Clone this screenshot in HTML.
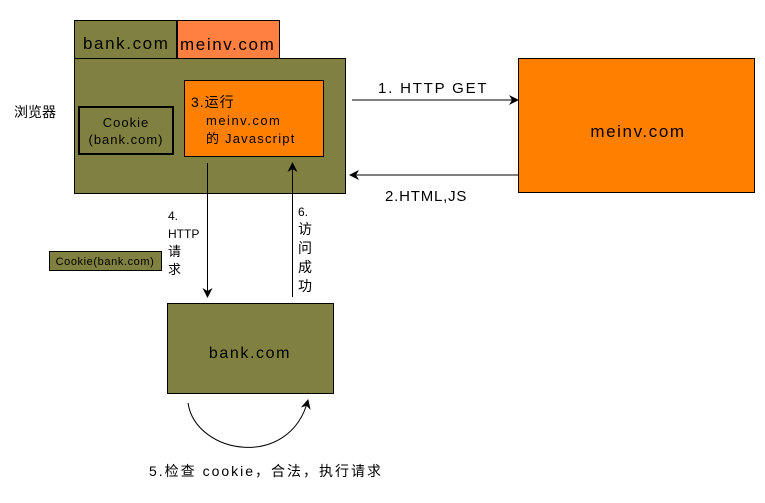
<!DOCTYPE html>
<html><head><meta charset="utf-8"><style>
body{margin:0;width:765px;height:498px;background:#fff;overflow:hidden}
svg text{font-family:"Liberation Sans","Noto Sans CJK SC",sans-serif;fill:#000}
</style></head><body>
<svg width="765" height="498" viewBox="0 0 765 498" xmlns="http://www.w3.org/2000/svg">
<defs><marker id="a" markerWidth="10" markerHeight="10" refX="9" refY="5" orient="auto" markerUnits="userSpaceOnUse"><path d="M0,0 L10,5 L0,10 L3,5 z" fill="#000"/></marker></defs>
<rect x="74.5" y="20.5" width="102" height="38" fill="#808040" stroke="#000"/>
<rect x="177.5" y="20.5" width="102" height="38" fill="#ff8040" stroke="#000"/>
<text x="83" y="49" font-size="17" letter-spacing="1.6">bank.com</text>
<text x="180" y="50" font-size="17" letter-spacing="1.6">meinv.com</text>
<rect x="74.5" y="58.5" width="271" height="135" fill="#808040" stroke="#000"/>
<rect x="79" y="107" width="94" height="47" fill="none" stroke="#000" stroke-width="2"/>
<text x="126" y="127" font-size="13" text-anchor="middle" letter-spacing="1">Cookie</text>
<text x="126" y="144" font-size="13" text-anchor="middle" letter-spacing="1">(bank.com)</text>
<rect x="184.5" y="80.5" width="139" height="76" fill="#ff8000" stroke="#000"/>
<text x="191" y="107" font-size="14" letter-spacing="1">3.运行</text>
<text x="206" y="125" font-size="13" letter-spacing="1.5">meinv.com</text>
<text x="206" y="143" font-size="13" letter-spacing="1.2">的 Javascript</text>
<text x="14" y="117" font-size="14">浏览器</text>
<rect x="518.5" y="58.5" width="236" height="134" fill="#ff8000" stroke="#000"/>
<text x="638" y="137" font-size="17" text-anchor="middle" letter-spacing="1.6">meinv.com</text>
<line x1="352" y1="100" x2="518" y2="100" stroke="#000" marker-end="url(#a)"/>
<text x="378" y="93" font-size="15" letter-spacing="1.8">1. HTTP GET</text>
<line x1="518" y1="175" x2="350" y2="175" stroke="#000" marker-end="url(#a)"/>
<text x="385" y="201" font-size="15" letter-spacing="0.8">2.HTML,JS</text>
<line x1="207.5" y1="163" x2="207.5" y2="297" stroke="#000" marker-end="url(#a)"/>
<line x1="292.5" y1="297" x2="292.5" y2="163" stroke="#000" marker-end="url(#a)"/>
<text x="168" y="220" font-size="12">4.</text>
<text x="168" y="238" font-size="12">HTTP</text>
<text x="168" y="256" font-size="13">请</text>
<text x="168" y="274" font-size="13">求</text>
<text x="298" y="216" font-size="12">6.</text>
<text x="298" y="234" font-size="14">访</text>
<text x="298" y="253" font-size="14">问</text>
<text x="298" y="272" font-size="14">成</text>
<text x="298" y="291" font-size="14">功</text>
<rect x="49.5" y="251.5" width="112" height="19" fill="#808040" stroke="#000"/>
<text x="105" y="265" font-size="11" text-anchor="middle" letter-spacing="0.6">Cookie(bank.com)</text>
<rect x="167.5" y="303.5" width="166" height="90" fill="#808040" stroke="#000"/>
<text x="250" y="358" font-size="16" text-anchor="middle" letter-spacing="1.6">bank.com</text>
<path d="M188,403 C196,455 290,470 308,400" fill="none" stroke="#000" marker-end="url(#a)"/>
<text x="149" y="476" font-size="14" letter-spacing="2">5.检查 cookie，合法，执行请求</text>
</svg>
</body></html>
